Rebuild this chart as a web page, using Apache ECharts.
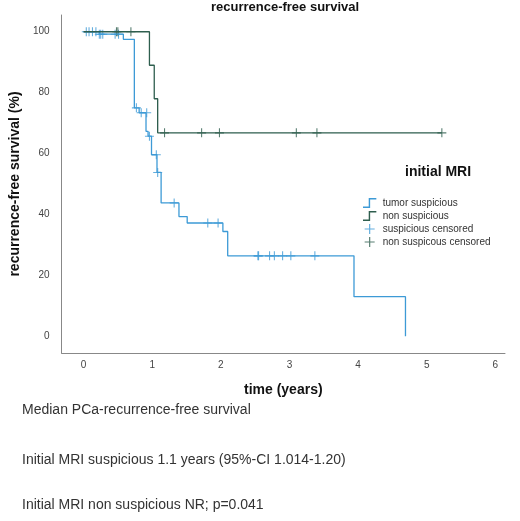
<!DOCTYPE html>
<html><head><meta charset="utf-8">
<script src="https://cdn.jsdelivr.net/npm/echarts@6/dist/echarts.min.js"></script>
<style>body{margin:0;background:#fff}#c{width:520px;height:521px}</style></head>
<body><div id="c"></div>
<script>
const xTicks=[0,1,2,3,4,5,6];
const yTicks=[0,20,40,60,80,100];
const suspicious=[[0,100],[0.23,99.2],[0.58,97.5],[0.74,75],[0.81,73.4],[0.91,67.3],[0.94,65.7],[0.99,59.6],[1.07,53.8],[1.13,43.8],[1.39,39.3],[1.51,37.2],[2.03,34.4],[2.10,26.4],[3.94,13],[4.69,0]];
const nonSuspicious=[[0,100],[0.96,89],[1.03,78],[1.08,66.8],[5.22,66.8]];
const suspCens=[[0.04,100],[0.08,100],[0.13,100],[0.18,100],[0.23,99.2],[0.25,99.2],[0.28,99.2],[0.46,99.2],[0.51,99.2],[0.77,75],[0.84,73.4],[0.92,73.4],[0.96,65.7],[1.06,59.6],[1.08,53.8],[1.32,43.8],[1.81,37.2],[1.96,37.2],[2.54,26.4],[2.55,26.4],[2.71,26.4],[2.78,26.4],[2.90,26.4],[3.02,26.4],[3.37,26.4]];
const nonCens=[[0.48,100],[0.5,100],[0.69,100],[1.18,66.8],[1.72,66.8],[1.98,66.8],[3.1,66.8],[3.4,66.8],[5.22,66.8]];
const blue='#3d9ad6', green='#2e5e4e';
const plus='path://M4.4,0H5.6V4.4H10V5.6H5.6V10H4.4V5.6H0V4.4H4.4Z';
const stepIcon='path://M0,9H6V0H14V1.5H7.5V10.5H0Z';
const ch=echarts.init(document.getElementById('c'));
ch.setOption({
 animation:false,
 title:{text:'recurrence-free survival',left:280,top:-4,textAlign:'center',textStyle:{fontSize:13,fontWeight:'bold',color:'#111',fontFamily:'Liberation Sans'}},
 grid:{left:46,top:15,right:15,bottom:168},
 xAxis:{type:'value',min:-0.32,max:6.14,name:'time (years)',nameLocation:'middle',nameGap:30,
  nameTextStyle:{fontSize:14,fontWeight:'bold',color:'#111',fontFamily:'Liberation Sans'},
  axisLine:{onZero:false,lineStyle:{color:'#888'}},axisTick:{show:false},splitLine:{show:false},
  axisLabel:{customValues:xTicks,color:'#444',fontSize:10,margin:7}},
 yAxis:{type:'value',min:-5.5,max:105.5,name:'recurrence-free survival (%)',nameLocation:'middle',nameGap:28,
  nameTextStyle:{fontSize:14,fontWeight:'bold',color:'#111',fontFamily:'Liberation Sans'},
  axisLine:{show:true,onZero:false,lineStyle:{color:'#888'}},axisTick:{show:false},splitLine:{show:false},
  axisLabel:{customValues:yTicks,color:'#444',fontSize:10,margin:12}},
 legend:{orient:'vertical',left:358,top:193,itemGap:3,itemWidth:16,itemHeight:10,
  textStyle:{fontSize:10,color:'#333',fontFamily:'Liberation Sans'},
  data:[{name:'tumor suspicious',icon:stepIcon},{name:'non suspicious',icon:stepIcon},{name:'suspicious censored',icon:plus},{name:'non suspicous censored',icon:plus}]},
 graphic:[
  {type:'text',left:405,top:165,style:{text:'initial MRI',fontSize:14,fontWeight:'bold',fill:'#111',font:'bold 14px Liberation Sans'}},
  {type:'text',left:22,top:403,style:{text:'Median PCa-recurrence-free survival',font:'14px Liberation Sans',fill:'#333'}},
  {type:'text',left:22,top:453,style:{text:'Initial MRI suspicious 1.1 years (95%-CI 1.014-1.20)',font:'14px Liberation Sans',fill:'#333'}},
  {type:'text',left:22,top:498,style:{text:'Initial MRI non suspicious NR; p=0.041',font:'14px Liberation Sans',fill:'#333'}}
 ],
 series:[
  {name:'tumor suspicious',type:'line',step:'end',data:suspicious,showSymbol:false,lineStyle:{color:blue,width:1.3},itemStyle:{color:blue}},
  {name:'non suspicious',type:'line',step:'end',data:nonSuspicious,showSymbol:false,lineStyle:{color:green,width:1.3},itemStyle:{color:green}},
  {name:'suspicious censored',type:'scatter',data:suspCens,symbol:plus,symbolSize:[9,9],itemStyle:{color:blue}},
  {name:'non suspicous censored',type:'scatter',data:nonCens,symbol:plus,symbolSize:[9,9],itemStyle:{color:green}}
 ]
});
</script></body></html>
